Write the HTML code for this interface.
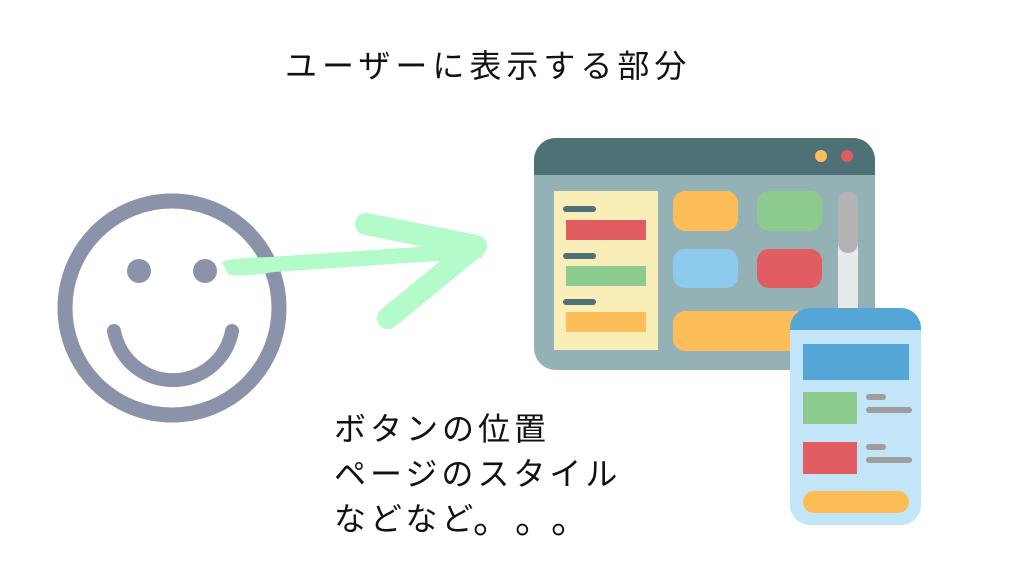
<!DOCTYPE html><html><head><meta charset="utf-8"><style>
body{margin:0;width:1024px;height:576px;background:#fff;overflow:hidden;position:relative;font-family:"Liberation Sans","Noto Sans CJK JP",sans-serif}
.t{position:absolute;color:#111;white-space:nowrap;font-family:"Noto Sans CJK JP",sans-serif}
.b{font-size:32px;letter-spacing:4px;line-height:45px}
.d{font-size:38px;line-height:45px}
</style></head><body>
<div class="t" style="left:285px;top:41px;font-size:32px;letter-spacing:5px">ユーザーに表示する部分</div>
<div class="t b" style="left:334px;top:405px">ボタンの位置<br>ページのスタイル<br>などなど</div>
<div class="t d" style="left:473px;top:494px">。</div>
<div class="t d" style="left:515px;top:494px">。</div>
<div class="t d" style="left:551px;top:494px">。</div>
<svg width="1024" height="576" style="position:absolute;left:0;top:0">
<circle cx="172" cy="308" r="107" fill="none" stroke="#8a93aa" stroke-width="15"/>
<circle cx="139" cy="271" r="12" fill="#8a93aa"/><circle cx="205" cy="271" r="12" fill="#8a93aa"/>
<path d="M114 331 A60 60 0 0 0 232 331" fill="none" stroke="#8a93aa" stroke-width="14" stroke-linecap="round"/>
<path d="M222 262 Q230 258 270 257 L478 243 L482 258 L274 272 Q236 278 228 274 Z" fill="#b3fbc8"/>
<g stroke="#b3fbc8" stroke-linecap="round" stroke-linejoin="round" fill="none">
<path d="M366 224 L476 246 L388 318" stroke-width="22"/>
</g>
<rect x="534" y="138" width="341" height="232" rx="22" fill="#94b1b6"/>
<path d="M534 175 V160 A22 22 0 0 1 556 138 H853 A22 22 0 0 1 875 160 V175Z" fill="#4e7178"/>
<circle cx="821" cy="156" r="6" fill="#fdbd58"/><circle cx="847" cy="156" r="6" fill="#e15d62"/>
<rect x="554" y="191" width="104" height="159" fill="#f9edb8"/>
<g fill="#4e7178"><rect x="563" y="206" width="33" height="6" rx="3"/><rect x="563" y="253" width="33" height="6" rx="3"/><rect x="563" y="299" width="33" height="6" rx="3"/></g>
<rect x="566" y="220" width="80" height="20" fill="#e15d62"/>
<rect x="566" y="266" width="80" height="20" fill="#8ccb8d"/>
<rect x="566" y="312" width="80" height="20" fill="#fdbd58"/>
<rect x="673" y="191" width="65" height="40" rx="12" fill="#fdbd58"/>
<rect x="757" y="191" width="65" height="40" rx="12" fill="#8ccb8d"/>
<rect x="673" y="249" width="65" height="39" rx="12" fill="#8ec9ee"/>
<rect x="757" y="249" width="65" height="39" rx="12" fill="#e15d62"/>
<rect x="838" y="192" width="20" height="160" rx="10" fill="#e8e9ea"/>
<rect x="838" y="192" width="20" height="61" rx="10" fill="#b3b3b3"/>
<rect x="673" y="311" width="150" height="40" rx="12" fill="#fdbd58"/>
<rect x="790" y="308" width="131" height="217" rx="20" fill="#c2e5f8"/>
<path d="M790 330 V328 A20 20 0 0 1 810 308 H901 A20 20 0 0 1 921 328 V330Z" fill="#54a6d6"/>
<rect x="803" y="344" width="106" height="36" fill="#54a6d6"/>
<rect x="803" y="392" width="54" height="32" fill="#8ccb8d"/>
<rect x="803" y="442" width="54" height="32" fill="#e15d62"/>
<g fill="#9e9e9e"><rect x="866" y="394" width="20" height="6" rx="3"/><rect x="866" y="407" width="46" height="6" rx="3"/><rect x="866" y="444" width="20" height="6" rx="3"/><rect x="866" y="457" width="46" height="6" rx="3"/></g>
<rect x="803" y="491" width="106" height="22" rx="11" fill="#fdbd58"/>
</svg>
</body></html>
